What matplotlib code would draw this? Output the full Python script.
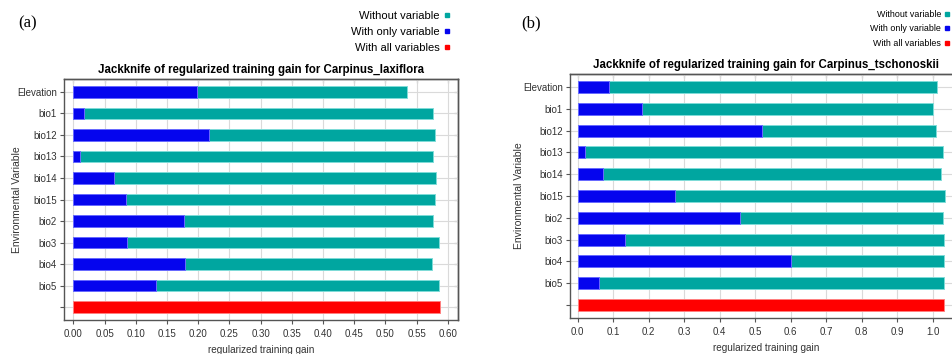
import matplotlib
matplotlib.use("Agg")
import matplotlib.pyplot as plt
from matplotlib.lines import Line2D

plt.rcParams['font.family'] = ['Liberation Sans', 'DejaVu Sans']

# variables, top to bottom (last row = all variables)
variables = ['Elevation', 'bio1', 'bio12', 'bio13', 'bio14', 'bio15',
             'bio2', 'bio3', 'bio4', 'bio5']

# Carpinus_laxiflora
laxi_without = [0.535, 0.577, 0.580, 0.577, 0.581, 0.580, 0.577, 0.586, 0.575, 0.586]
laxi_only = [0.198, 0.017, 0.218, 0.011, 0.065, 0.084, 0.177, 0.086, 0.179, 0.132]
laxi_all = 0.588

# Carpinus_tschonoskii
tsch_without = [1.012, 1.002, 1.009, 1.030, 1.023, 1.035, 1.030, 1.033, 1.033, 1.033]
tsch_only = [0.089, 0.181, 0.518, 0.021, 0.070, 0.274, 0.458, 0.134, 0.601, 0.061]
tsch_all = 1.033

TEAL = '#00a6a0'
BLUE = '#0505ee'
RED = '#ff0000'


def jackknife(ax, without, only, allvars, species, xticks, fmt, xlim, ylab_x):
    n = len(variables)
    ypos = list(range(n))
    h = 0.55
    ax.barh(ypos, without, height=h, color=TEAL, edgecolor='#7fdcd8', linewidth=0.7, zorder=3)
    ax.barh(ypos, only, height=h, color=BLUE, edgecolor='#6a6aff', linewidth=0.7, zorder=4)
    ax.barh([n], [allvars], height=h, color=RED, edgecolor='#ff8080', linewidth=0.7, zorder=3)

    ax.set_yticks(ypos + [n])
    ax.set_yticklabels(variables + [''])
    ax.set_ylim(n + 0.6, -0.6)
    ax.set_xlim(*xlim)
    ax.set_xticks(xticks)
    ax.set_xticklabels([fmt.format(t) for t in xticks])

    ax.grid(True, color='#dadada', linewidth=0.8, zorder=0)
    ax.set_axisbelow(True)
    for s in ax.spines.values():
        s.set_color('#555555')
        s.set_linewidth(1.0)
    ax.tick_params(axis='both', labelsize=7, colors='#555555', labelcolor='#333333',
                   length=3, width=0.8, direction='out')
    ax.tick_params(axis='y', pad=2)

    # inward ticks on top and right edges
    top = ax.secondary_xaxis('top')
    top.set_xticks(xticks)
    top.tick_params(direction='in', length=3, width=0.8, colors='#555555', labeltop=False)
    right = ax.secondary_yaxis('right')
    right.set_yticks(ypos + [n])
    right.tick_params(direction='in', length=3, width=0.8, colors='#555555', labelright=False)
    for sec in (top, right):
        for s in sec.spines.values():
            s.set_color('#555555')
            s.set_linewidth(1.0)

    ax.set_title('Jackknife of regularized training gain for ' + species,
                 fontsize=8.3, fontweight='bold', pad=4)
    ax.set_xlabel('regularized training gain', fontsize=7.2, color='#333333', labelpad=4)
    ax.set_ylabel('Environmental Variable', fontsize=7.5, color='#333333')
    ax.yaxis.set_label_coords(ylab_x, 0.5)


fig = plt.figure(figsize=(9.52, 3.54), dpi=100)

ax1 = fig.add_axes([64 / 952, 34 / 354, 394 / 952, 241 / 354])
jackknife(ax1, laxi_without, laxi_only, laxi_all, 'Carpinus_laxiflora',
          [i * 0.05 for i in range(13)], '{:.2f}', (-0.015, 0.6165), -0.107)

ax2 = fig.add_axes([570 / 952, 36 / 354, 392 / 952, 244 / 354])
jackknife(ax2, tsch_without, tsch_only, tsch_all, 'Carpinus_tschonoskii',
          [i * 0.1 for i in range(11)], '{:.1f}', (-0.022, 1.0825), -0.117)

fig.text(18 / 952, 1 - 23 / 354, '(a)', family=['Liberation Serif', 'DejaVu Serif'],
         fontsize=12, va='center', ha='left')
fig.text(521 / 952, 1 - 23 / 354, '(b)', family=['Liberation Serif', 'DejaVu Serif'],
         fontsize=12, va='center', ha='left')

labels = ['Without variable', 'With only variable', 'With all variables']
handles = [Line2D([], [], linestyle='none', marker='s', markersize=3.2, color=c)
           for c in (TEAL, BLUE, RED)]

ax1.legend(handles, labels, loc='upper right', bbox_to_anchor=(451 / 952, 1 - 11 / 354),
           bbox_transform=fig.transFigure, frameon=False, markerfirst=False,
           fontsize=8, handlelength=0.7, handletextpad=0.3, labelspacing=0.52,
           borderpad=0, borderaxespad=0)
ax2.legend(handles, labels, loc='upper right', bbox_to_anchor=(951 / 952, 1 - 10 / 354),
           bbox_transform=fig.transFigure, frameon=False, markerfirst=False,
           fontsize=6.4, handlelength=0.8, handletextpad=0.3, labelspacing=0.6,
           borderpad=0, borderaxespad=0)

fig.savefig('out.png', dpi=100)
